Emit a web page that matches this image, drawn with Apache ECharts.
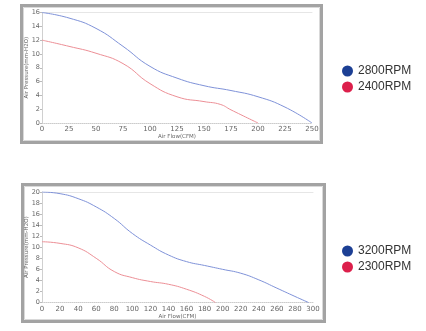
<!DOCTYPE html>
<html><head><meta charset="utf-8">
<script src="https://cdn.jsdelivr.net/npm/echarts@6/dist/echarts.min.js"></script>
<style>html,body{margin:0;padding:0;background:#fff}#c{width:426px;height:331px}</style>
</head><body><div id="c"></div>
<script>
// Chart 1
const flow1 = [0, 25, 50, 75, 100, 125, 150, 175, 200, 225, 250];
const rpm2800 = [16, 15.2, 13.7, 11.1, 8.2, 6.5, 5.4, 4.7, 3.8, 2.3, 0];
const flow1b = [0, 25, 50, 75, 100, 125, 150, 165, 175, 200];
const rpm2400 = [12, 11.1, 10.1, 8.6, 5.7, 3.8, 3.1, 2.7, 1.9, 0];
// Chart 2
const flow2 = [0, 20, 40, 60, 80, 100, 120, 140, 160, 180, 200, 220, 240, 260, 280, 295];
const rpm3200 = [20, 19.7, 18.8, 17.3, 15.2, 12.5, 10.4, 8.6, 7.4, 6.7, 6.0, 5.3, 4.1, 2.6, 1.1, 0];
const flow2b = [0, 20, 40, 60, 80, 100, 120, 140, 160, 180, 192];
const rpm2300 = [11, 10.7, 9.9, 8.0, 5.6, 4.5, 3.8, 3.3, 2.4, 1.1, 0];
const names = ['2800RPM', '2400RPM', '3200RPM', '2300RPM'];
const xName = 'Air Flow(CFM)';
const yName = 'Air Pressure(mm-H2O)';

const pair = (xs, ys) => xs.map((x, i) => [x, ys[i]]);
const chart = echarts.init(document.getElementById('c'), null, {renderer: 'canvas'});
const lab = {fontSize: 7, color: '#666', fontFamily: 'DejaVu Sans', margin: 3};
const ylab = {fontSize: 6.5, color: '#666', fontFamily: 'DejaVu Sans', margin: 2};
function xa(idx, max, interval) {
  return {type: 'value', gridIndex: idx, min: 0, max: max, interval: interval,
    name: xName, nameLocation: 'middle', nameGap: 11, nameMoveOverlap: false,
    nameTextStyle: {fontSize: 5.5, color: '#666', fontFamily: 'DejaVu Sans'},
    axisLine: {show: true, lineStyle: {color: '#ccc', type: 'dotted', width: 1}},
    axisTick: {show: false}, splitLine: {show: false}, axisLabel: lab};
}
function xt(idx, max) {
  return {type: 'value', gridIndex: idx, position: 'top', min: 0, max: max,
    axisLine: {show: true, lineStyle: {color: '#e6e6e6', width: 1}},
    axisTick: {show: false}, axisLabel: {show: false}, splitLine: {show: false}};
}
function ya(idx, max) {
  return {type: 'value', gridIndex: idx, min: 0, max: max, interval: 2,
    name: yName, nameLocation: 'middle', nameGap: 12, nameRotate: 90, nameMoveOverlap: false,
    nameTextStyle: {fontSize: 5.5, color: '#666', fontFamily: 'DejaVu Sans'},
    axisLine: {show: true, lineStyle: {color: '#d0d0d0'}},
    axisTick: {show: true, length: 2, lineStyle: {color: '#bbb'}},
    splitLine: {show: false}, axisLabel: ylab};
}
function ser(name, data, xi, yi, legendColor, lineColor) {
  return {name: name, type: 'line', data: data, xAxisIndex: xi, yAxisIndex: yi,
    smooth: 0.5, showSymbol: false, symbol: 'none',
    itemStyle: {color: legendColor}, lineStyle: {color: lineColor, width: 1}};
}
const legText = {fontSize: 12, color: '#333', fontFamily: 'Liberation Sans'};
chart.setOption({
  animation: false,
  backgroundColor: '#fff',
  graphic: [
    {type: 'rect', shape: {x: 21.5, y: 5.5, width: 300, height: 137}, style: {fill: 'none', stroke: '#a3a3a3', lineWidth: 3}},
    {type: 'rect', shape: {x: 23.5, y: 7.5, width: 296, height: 133}, style: {fill: 'none', stroke: '#d9d9d9', lineWidth: 1}},
    {type: 'rect', shape: {x: 22.5, y: 184.5, width: 302, height: 137}, style: {fill: 'none', stroke: '#a3a3a3', lineWidth: 3}},
    {type: 'rect', shape: {x: 24.5, y: 186.5, width: 298, height: 133}, style: {fill: 'none', stroke: '#d9d9d9', lineWidth: 1}}
  ],
  legend: [
    {data: [names[0], names[1]], orient: 'vertical', left: 337, top: 60, icon: 'circle',
      itemWidth: 11, itemHeight: 11, itemGap: 4, textStyle: legText},
    {data: [names[2], names[3]], orient: 'vertical', left: 337, top: 240, icon: 'circle',
      itemWidth: 11, itemHeight: 11, itemGap: 4, textStyle: legText}
  ],
  grid: [
    {left: 42, right: 114, top: 12.5, bottom: 208, containLabel: false},
    {left: 42, right: 113, top: 192, bottom: 28.5, containLabel: false}
  ],
  xAxis: [xa(0, 250, 25), xa(1, 300, 20), xt(0, 250), xt(1, 300)],
  yAxis: [ya(0, 16), ya(1, 20)],
  series: [
    ser(names[0], pair(flow1, rpm2800), 0, 0, '#1c3f94', '#7f92d8'),
    ser(names[1], pair(flow1b, rpm2400), 0, 0, '#dc1f4b', '#ec8f96'),
    ser(names[2], pair(flow2, rpm3200), 1, 1, '#1c3f94', '#7f92d8'),
    ser(names[3], pair(flow2b, rpm2300), 1, 1, '#dc1f4b', '#ec8f96')
  ]
});
</script></body></html>
